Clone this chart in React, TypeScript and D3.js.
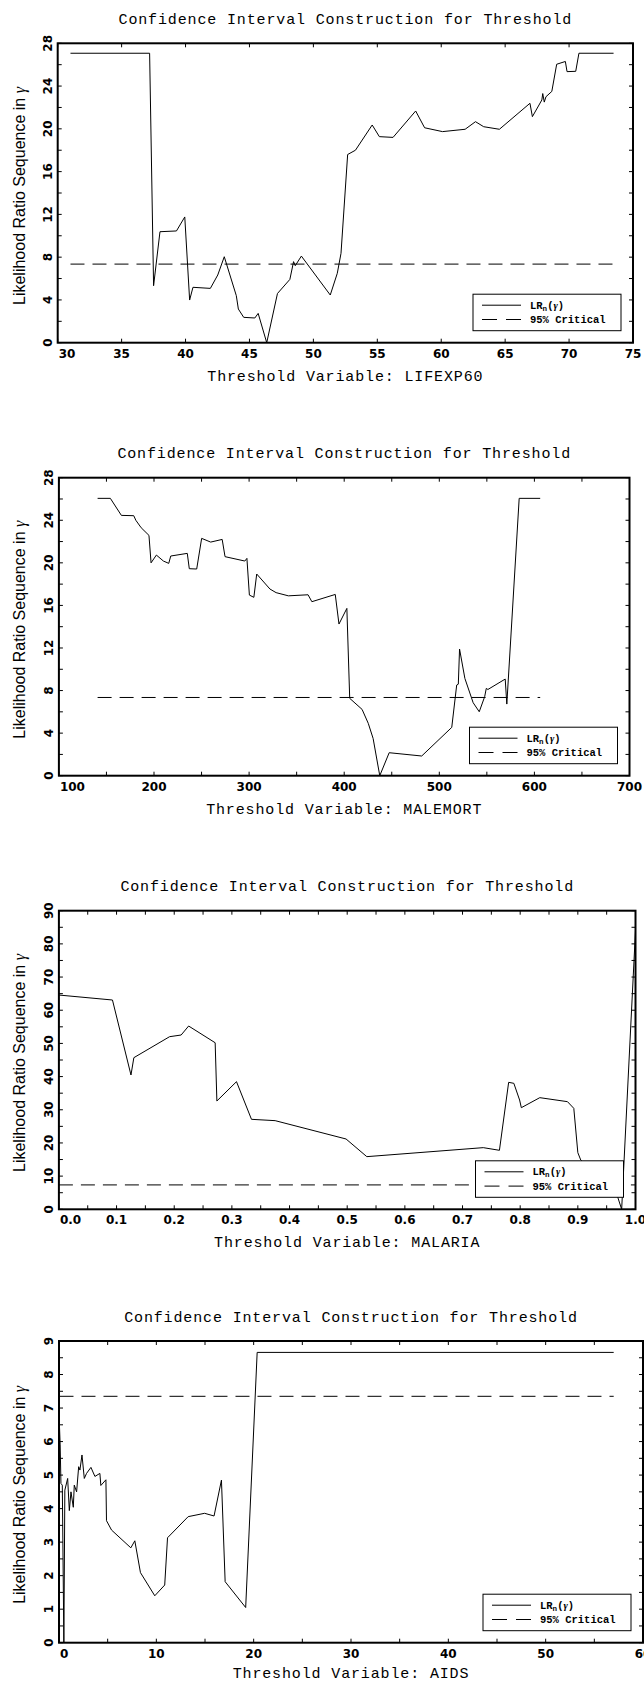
import React from "react";
import * as d3 from "d3";

// 95% critical value of the LR statistic
const CRITICAL = 7.35;

// [threshold, LR_n(gamma)]
const lifexpSeries: [number, number][] = [
    [31.0, 27.07], [37.19, 27.07], [37.5, 5.33], [38.0, 10.38], [39.29, 10.45], [39.94, 11.76],
    [40.32, 3.99], [40.58, 5.18], [41.94, 5.08], [42.52, 6.33], [43.03, 8.04], [43.97, 4.4],
    [44.13, 3.15], [44.55, 2.37], [45.42, 2.31], [45.68, 2.74], [46.35, 0], [47.19, 4.6],
    [48.16, 5.92], [48.45, 7.58], [48.58, 7.2], [49.06, 8.1], [51.32, 4.46], [51.87, 6.49],
    [52.16, 8.36], [52.68, 17.6], [53.29, 18.0], [54.6, 20.36], [55.16, 19.27], [56.23, 19.2],
    [58.0, 21.67], [58.7, 20.1], [60.1, 19.74], [61.87, 19.96], [62.68, 20.67], [63.32, 20.2],
    [64.55, 19.96], [66.94, 22.39], [67.13, 21.14], [67.87, 22.7], [67.94, 23.3], [68.06, 22.5],
    [68.19, 23.0], [68.65, 23.5], [69.03, 26.04], [69.71, 26.3], [69.84, 25.35], [70.52, 25.38],
    [70.77, 27.07], [73.48, 27.07],
];

const malemortSeries: [number, number][] = [
    [140.7, 26.06], [154.1, 26.06], [165.7, 24.46], [178.7, 24.43], [180.9, 24.0], [186.5, 23.3],
    [194.7, 22.58], [196.9, 20.0], [202.5, 20.73], [209.9, 20.17], [215.5, 19.95], [217.6, 20.64],
    [235.0, 20.89], [237.1, 19.45], [244.9, 19.42], [250.1, 22.3], [259.6, 21.95], [271.7, 22.2],
    [274.7, 20.58], [295.5, 20.17], [297.7, 20.42], [300.3, 16.97], [305.0, 16.76], [308.0, 18.95],
    [321.9, 17.54], [328.4, 17.2], [341.3, 16.9], [362.0, 17.0], [366.0, 16.35], [390.6, 17.03],
    [394.5, 14.25], [402.8, 15.72], [405.8, 7.27], [418.8, 6.23], [425.3, 4.92], [430.4, 3.5],
    [437.4, 0], [447.3, 2.16], [481.5, 1.85], [513.1, 4.54], [518.3, 8.52], [520.0, 8.6],
    [521.3, 11.9], [526.9, 9.14], [535.6, 6.86], [542.0, 6.01], [547.7, 7.42], [549.4, 8.2],
    [551.1, 8.1], [569.3, 9.08], [571.0, 6.73], [584.0, 26.06], [606.1, 26.06],
];

const malariaSeries: [number, number][] = [
    [0, 64.58], [0.0929, 63.08], [0.125, 40.48], [0.13, 45.7], [0.192, 52.03], [0.212, 52.53],
    [0.225, 55.24], [0.271, 50.2], [0.274, 32.64], [0.308, 38.47], [0.334, 27.12], [0.375, 26.72],
    [0.498, 21.19], [0.534, 15.87], [0.736, 18.58], [0.764, 17.78], [0.78, 38.27], [0.789, 37.97],
    [0.799, 32.94], [0.802, 30.63], [0.834, 33.65], [0.882, 32.44], [0.893, 30.43], [0.9, 17.07],
    [0.905, 14.87], [0.968, 4.3], [0.976, 0], [1.0, 84.0],
];

const aidsSeries: [number, number][] = [
    [0.05, 6.45], [0.12, 5.9], [0.2, 4.75], [0.34, 4.7], [0.5, 0], [0.6, 4.55], [0.89, 4.9],
    [1.06, 3.94], [1.23, 4.5], [1.47, 4.04], [1.57, 4.7], [1.81, 4.5], [2.02, 5.25], [2.15, 5.15],
    [2.36, 5.6], [2.6, 4.9], [2.83, 5.05], [3.28, 5.23], [3.69, 4.96], [4.2, 5.05], [4.3, 4.69],
    [4.82, 4.86], [4.88, 3.64], [5.4, 3.36], [7.38, 2.83], [7.79, 3.04], [8.37, 2.09], [9.84, 1.4],
    [10.86, 1.72], [11.15, 3.13], [13.27, 3.76], [14.96, 3.86], [15.93, 3.78], [16.69, 4.85],
    [17.07, 1.82], [19.18, 1.05], [20.36, 8.66], [56.99, 8.66],
];

// tick labels
const lifexpXTicks = [30, 35, 40, 45, 50, 55, 60, 65, 70, 75];
const malemortXTicks = [100, 200, 300, 400, 500, 600, 700];
const malariaXTicks = [0, 0.1, 0.2, 0.3, 0.4, 0.5, 0.6, 0.7, 0.8, 0.9, 1.0];
const aidsXTicks = [0, 10, 20, 30, 40, 50, 60];
const lrYTicks = [0, 4, 8, 12, 16, 20, 24, 28];
const malariaYTicks = [0, 10, 20, 30, 40, 50, 60, 70, 80, 90];
const aidsYTicks = [0, 1, 2, 3, 4, 5, 6, 7, 8, 9];

const MONO = "'Liberation Mono', 'DejaVu Sans Mono', monospace";
const TICKFONT = "'DejaVu Sans', sans-serif";

type Frame = { left: number; right: number; top: number; bottom: number };

type PanelSpec = {
    name: string;
    series: [number, number][];
    frame: Frame;
    xTicks: number[];
    xMinor: number | null;
    xFmt: (v: number) => string;
    yTicks: number[];
    yMinor: number;
    xTitleGap: number;
};

const panels: PanelSpec[] = [
    {
        name: "LIFEXP60", series: lifexpSeries,
        frame: { left: 57.7, right: 633, top: 43.3, bottom: 342.7 },
        xTicks: lifexpXTicks, xMinor: null, xFmt: d3.format("d"),
        yTicks: lrYTicks, yMinor: 2, xTitleGap: 38,
    },
    {
        name: "MALEMORT", series: malemortSeries,
        frame: { left: 58.9, right: 629.5, top: 477.7, bottom: 775.7 },
        xTicks: malemortXTicks, xMinor: 50, xFmt: d3.format("d"),
        yTicks: lrYTicks, yMinor: 2, xTitleGap: 38,
    },
    {
        name: "MALARIA", series: malariaSeries,
        frame: { left: 58.9, right: 635.5, top: 910.7, bottom: 1209.3 },
        xTicks: malariaXTicks, xMinor: 0.05, xFmt: d3.format(".1f"),
        yTicks: malariaYTicks, yMinor: 5, xTitleGap: 38,
    },
    {
        name: "AIDS", series: aidsSeries,
        frame: { left: 59, right: 643, top: 1341, bottom: 1642.7 },
        xTicks: aidsXTicks, xMinor: 5, xFmt: d3.format("d"),
        yTicks: aidsYTicks, yMinor: 0.5, xTitleGap: 35.5,
    },
];

const Panel: React.FC<{ spec: PanelSpec }> = ({ spec }) => {
    const f = spec.frame;
    const xDom = d3.extent(spec.xTicks) as [number, number];
    const yDom = d3.extent(spec.yTicks) as [number, number];
    const x = d3.scaleLinear().domain(xDom).range([f.left, f.right]);
    const y = d3.scaleLinear().domain(yDom).range([f.bottom, f.top]);

    const line = d3
        .line<[number, number]>()
        .x(d => x(d[0]))
        .y(d => y(d[1]));

    const [xmin, xmax] = d3.extent(spec.series, d => d[0]) as [number, number];
    const cx = (f.left + f.right) / 2;
    const cy = (f.top + f.bottom) / 2;
    const tickLen = 4;

    // minor ticks sit halfway between the labelled ones
    const xMinorTicks =
        spec.xMinor == null
            ? []
            : d3.range(xDom[0] + spec.xMinor, xDom[1], spec.xMinor * 2);
    const yMinorTicks = d3.range(yDom[0] + spec.yMinor, yDom[1], spec.yMinor * 2);
    const xAll = [...spec.xTicks, ...xMinorTicks];
    const yAll = [...spec.yTicks, ...yMinorTicks];

    const legW = 148;
    const legH = 36.5;
    const legX = f.right - 12 - legW;
    const legY = f.bottom - 12 - legH;

    return (
        <g>
            <text
                x={cx}
                y={f.top - 19.4}
                textAnchor="middle"
                fontFamily={MONO}
                fontSize={15}
                letterSpacing={0.86}
            >
                Confidence Interval Construction for Threshold
            </text>

            {/* critical value */}
            <line
                x1={x(xmin)}
                x2={x(xmax)}
                y1={y(CRITICAL)}
                y2={y(CRITICAL)}
                stroke="#000"
                strokeWidth={1}
                strokeDasharray="14,8"
            />

            <path d={line(spec.series) ?? ""} fill="none" stroke="#000" strokeWidth={1} />

            {/* ticks on all four sides, pointing in */}
            {xAll.map((v, i) => (
                <g key={"xt" + i} stroke="#000" strokeWidth={1}>
                    <line x1={x(v)} x2={x(v)} y1={f.bottom} y2={f.bottom - tickLen} />
                    <line x1={x(v)} x2={x(v)} y1={f.top} y2={f.top + tickLen} />
                </g>
            ))}
            {yAll.map((v, i) => (
                <g key={"yt" + i} stroke="#000" strokeWidth={1}>
                    <line x1={f.left} x2={f.left + tickLen} y1={y(v)} y2={y(v)} />
                    <line x1={f.right} x2={f.right - tickLen} y1={y(v)} y2={y(v)} />
                </g>
            ))}

            <rect
                x={f.left}
                y={f.top}
                width={f.right - f.left}
                height={f.bottom - f.top}
                fill="none"
                stroke="#000"
                strokeWidth={2}
            />

            {spec.xTicks.map((v, i) => (
                <text
                    key={"xl" + i}
                    x={i === 0 ? f.left + 1 : x(v)}
                    y={f.bottom + 15}
                    textAnchor={i === 0 ? "start" : "middle"}
                    fontFamily={TICKFONT}
                    fontWeight="bold"
                    fontSize={12}
                >
                    {spec.xFmt(v)}
                </text>
            ))}
            {spec.yTicks.map((v, i) => (
                <text
                    key={"yl" + i}
                    transform={`translate(${f.left - 6},${y(v)}) rotate(-90)`}
                    textAnchor="middle"
                    fontFamily={TICKFONT}
                    fontWeight="bold"
                    fontSize={12}
                >
                    {v}
                </text>
            ))}

            <text
                transform={`translate(25,${cy + 3}) rotate(-90)`}
                textAnchor="middle"
                fontFamily="'Liberation Sans', Arial, sans-serif"
                fontSize={16}
            >
                Likelihood Ratio Sequence in{" "}
                <tspan fontFamily="'Liberation Serif', serif" fontStyle="italic">
                    γ
                </tspan>
            </text>

            <text
                x={cx}
                y={f.bottom + spec.xTitleGap}
                textAnchor="middle"
                fontFamily={MONO}
                fontSize={15}
                letterSpacing={0.86}
            >
                {`Threshold Variable: ${spec.name}`}
            </text>

            {/* legend */}
            <g>
                <rect x={legX} y={legY} width={legW} height={legH} fill="#fff" stroke="#000" strokeWidth={1} />
                <line x1={legX + 9} x2={legX + 48} y1={legY + 11} y2={legY + 11} stroke="#000" strokeWidth={1} />
                <line
                    x1={legX + 9}
                    x2={legX + 48}
                    y1={legY + 25.3}
                    y2={legY + 25.3}
                    stroke="#000"
                    strokeWidth={1}
                    strokeDasharray="15,9"
                />
                <text x={legX + 57} y={legY + 14.3} fontFamily={MONO} fontWeight="bold" fontSize={10.5}>
                    LR
                    <tspan fontSize={7.5} dy={2}>n</tspan>
                    <tspan dy={-2}>(</tspan>
                    <tspan fontFamily="'Liberation Serif', serif" fontStyle="italic">γ</tspan>)
                </text>
                <text x={legX + 57} y={legY + 28.7} fontFamily={MONO} fontWeight="bold" fontSize={10.5}>
                    95% Critical
                </text>
            </g>
        </g>
    );
};

export default function App() {
    return (
        <svg
            width={644}
            height={1683}
            style={{ position: "absolute", left: 0, top: 0, background: "#fff" }}
        >
            {panels.map(p => (
                <Panel key={p.name} spec={p} />
            ))}
        </svg>
    );
}
